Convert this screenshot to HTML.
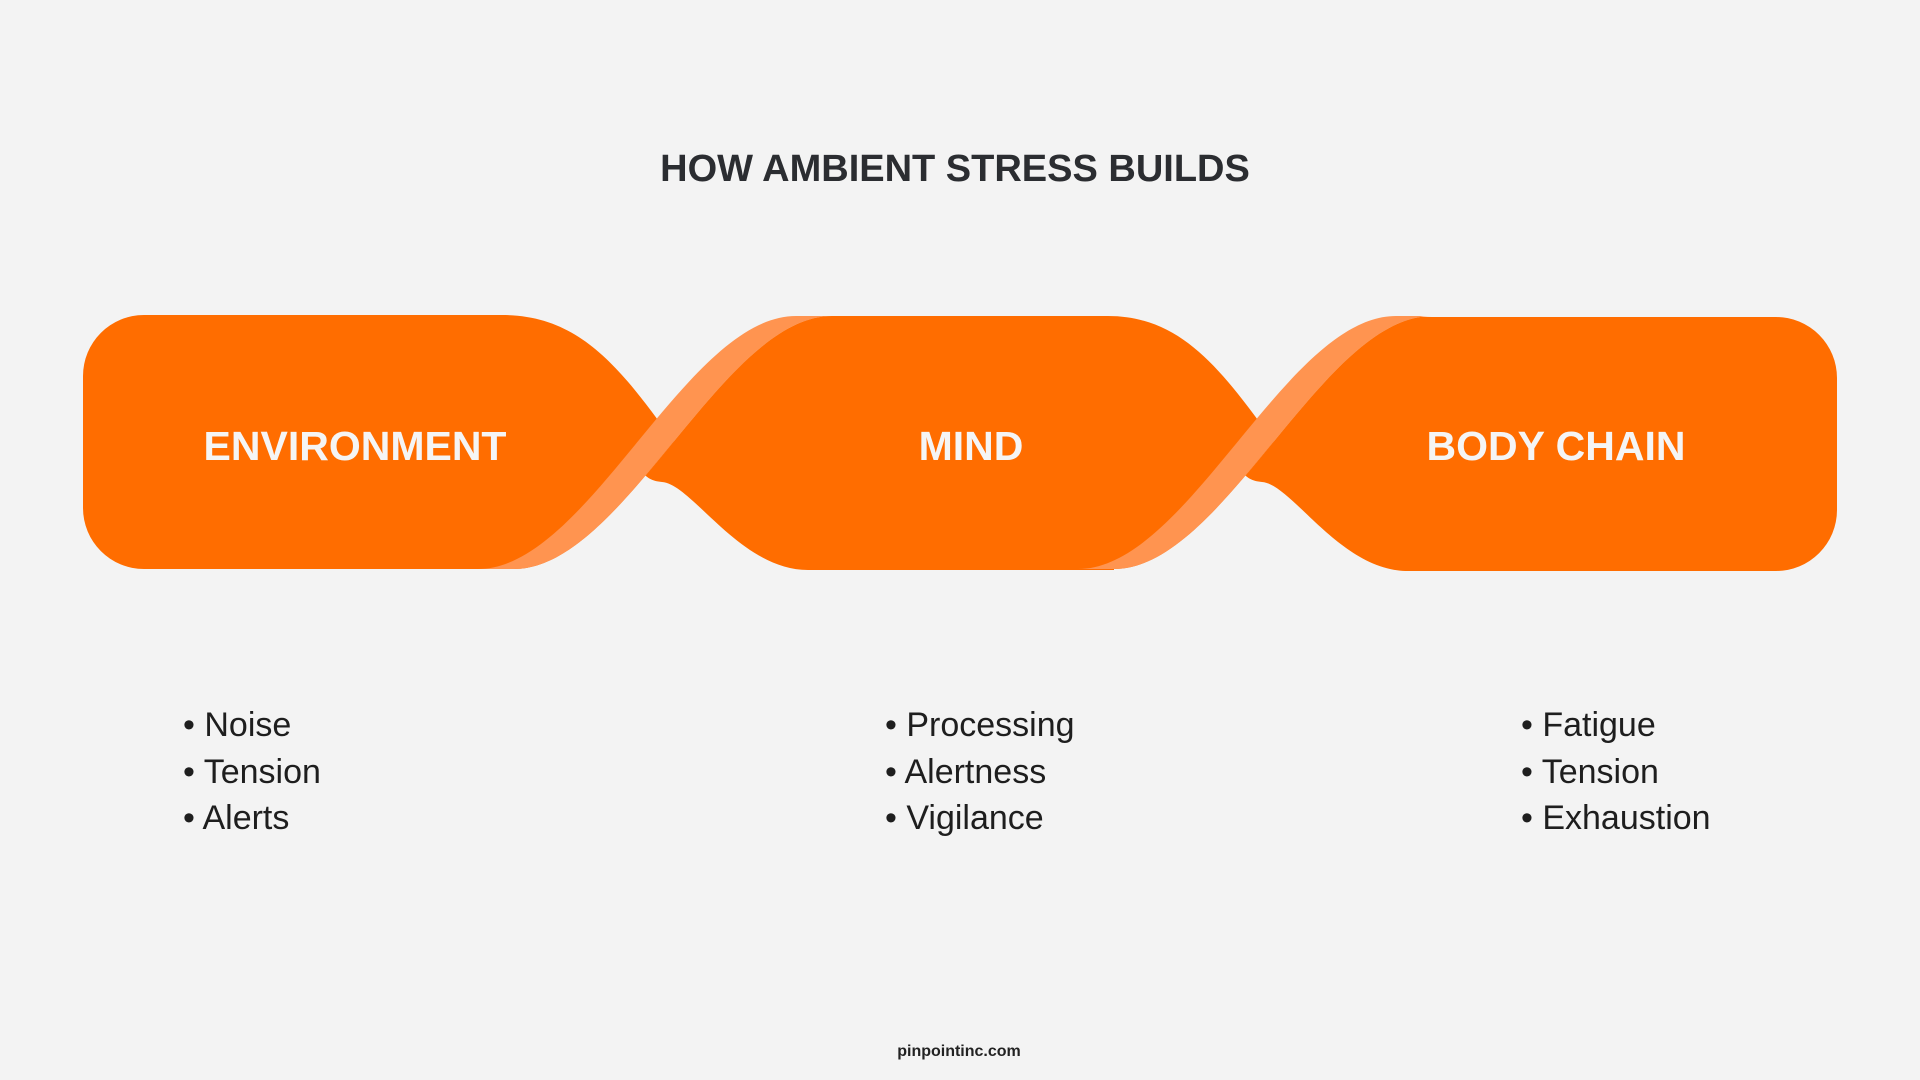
<!DOCTYPE html>
<html><head><meta charset="utf-8"><style>
html,body{margin:0;padding:0;background:#f3f3f3;}
body{width:1920px;height:1080px;position:relative;overflow:hidden;font-family:"Liberation Sans",sans-serif;}
.t{position:absolute;white-space:nowrap;}
.title{left:0;width:1910px;text-align:center;top:148px;font-size:38px;font-weight:bold;color:#2b2d31;}
.lab{top:423px;font-size:41px;font-weight:bold;color:#f5f5f5;transform:translateX(-50%);}
.list{font-size:34px;color:#1e1e1e;line-height:46.5px;top:702px;}
.foot{left:0;width:1918px;text-align:center;top:1043px;font-size:16px;font-weight:bold;color:#222;}
</style></head><body>
<svg width="1920" height="1080" style="position:absolute;left:0;top:0">
<defs>
<clipPath id="c1"><path d="M832,316 C722,316 624,569 514,569 L514,800 L2000,800 L2000,0 L832,0 Z"/></clipPath>
<clipPath id="c2"><path d="M1432,316 C1322,316 1224,569 1114,569 L1114,800 L2000,800 L2000,0 L1432,0 Z"/></clipPath>
</defs>
<path fill="#ff6d00" d="M144,315 H502 C585,315 625,375 680,450 L720,520 L720,569 H144 A61,61 0 0 1 83,508 V376 A61,61 0 0 1 144,315 Z"/>
<path fill="#f3f3f3" d="M832,316 C722,316 624,569 514,569 L514,600 L900,600 L900,316 Z"/>
<path fill="#ff9450" d="M478,569 C588,569 686,316 796,316 H832 C722,316 624,569 514,569 Z"/>
<path fill="#ff6d00" clip-path="url(#c1)" d="M700,316 H1108 C1185,316 1225,375 1280,450 L1320,520 L1320,570 H808 C740,570 692,484 662,482 C652,481 646,478 641,470 L600,380 L600,316 Z"/>
<path fill="#f3f3f3" d="M1432,316 C1322,316 1224,569 1114,569 L1114,600 L1500,600 L1500,316 Z"/>
<path fill="#ff9450" d="M1078,569 C1188,569 1286,316 1396,316 H1432 C1322,316 1224,569 1114,569 Z"/>
<path fill="#ff6d00" clip-path="url(#c2)" d="M1300,317 H1776 A61,61 0 0 1 1837,378 V510 A61,61 0 0 1 1776,571 H1408 C1340,571 1292,484 1262,482 C1252,481 1246,478 1241,470 L1200,380 L1200,317 Z"/>
</svg>
<div class="t title">HOW AMBIENT STRESS BUILDS</div>
<div class="t lab" style="left:355px">ENVIRONMENT</div>
<div class="t lab" style="left:971px">MIND</div>
<div class="t lab" style="left:1556px">BODY CHAIN</div>
<div class="t list" style="left:183px">• Noise<br>• Tension<br>• Alerts</div>
<div class="t list" style="left:885px">• Processing<br>• Alertness<br>• Vigilance</div>
<div class="t list" style="left:1521px">• Fatigue<br>• Tension<br>• Exhaustion</div>
<div class="t foot">pinpointinc.com</div>
</body></html>
